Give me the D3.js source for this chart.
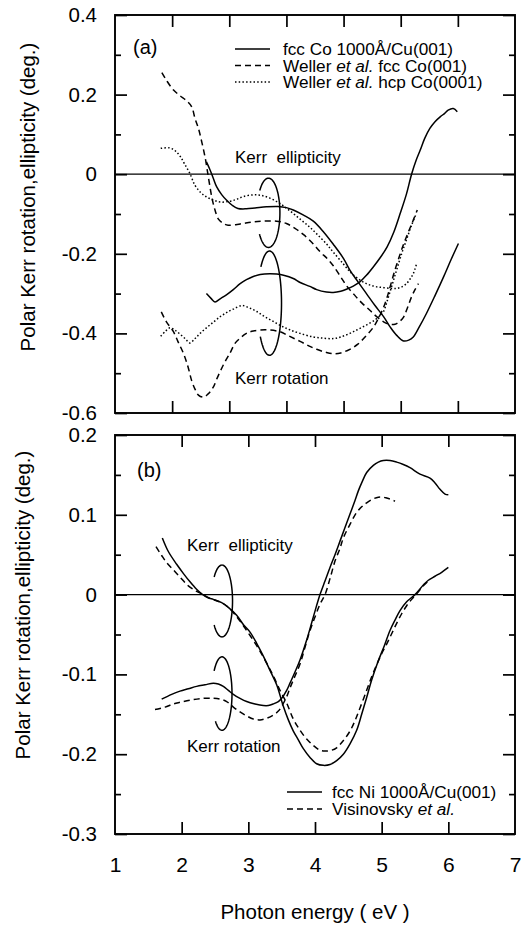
<!DOCTYPE html>
<html>
<head>
<meta charset="utf-8">
<script src="https://cdn.jsdelivr.net/npm/d3@7"></script>
<style>
  body { margin: 0; background: #fff; }
  text { font-family: "Liberation Sans", Arial, sans-serif; fill: #000; }
</style>
</head>
<body>
<svg id="chart" width="521" height="925"></svg>
<script>
// ---- panel (a): Co, [photon energy eV, degrees] ----
const coFccEllip = [[2.60,0.031],[2.66,0.012],[2.72,-0.010],[2.78,-0.032],[2.87,-0.052],[2.95,-0.065],[3.05,-0.078],[3.15,-0.086],[3.30,-0.087],[3.45,-0.085],[3.65,-0.082],[3.85,-0.081],[4.00,-0.084],[4.12,-0.090],[4.30,-0.103],[4.47,-0.118],[4.65,-0.145],[4.82,-0.176],[5.00,-0.212],[5.11,-0.241],[5.25,-0.270],[5.40,-0.300],[5.55,-0.330],[5.70,-0.358],[5.82,-0.385],[5.93,-0.405],[6.05,-0.419],[6.14,-0.417],[6.22,-0.409],[6.32,-0.385],[6.45,-0.350],[6.60,-0.305],[6.75,-0.258],[6.88,-0.215],[7.01,-0.174]];
const coFccRot = [[2.60,-0.300],[2.68,-0.312],[2.75,-0.321],[2.84,-0.313],[2.95,-0.303],[3.07,-0.290],[3.19,-0.275],[3.30,-0.265],[3.42,-0.257],[3.54,-0.252],[3.71,-0.250],[3.83,-0.251],[3.95,-0.254],[4.12,-0.262],[4.24,-0.272],[4.41,-0.282],[4.53,-0.290],[4.70,-0.296],[4.82,-0.297],[4.95,-0.294],[5.05,-0.289],[5.17,-0.281],[5.29,-0.270],[5.40,-0.254],[5.52,-0.233],[5.64,-0.210],[5.76,-0.183],[5.88,-0.145],[5.99,-0.099],[6.10,-0.050],[6.19,0.000],[6.27,0.035],[6.34,0.060],[6.42,0.090],[6.51,0.115],[6.60,0.132],[6.69,0.144],[6.77,0.153],[6.83,0.161],[6.92,0.165],[6.99,0.157]];
const wellerFccEllip = [[1.82,0.255],[1.90,0.236],[2.02,0.212],[2.13,0.198],[2.25,0.185],[2.34,0.170],[2.40,0.140],[2.46,0.115],[2.52,0.080],[2.58,0.040],[2.62,0.005],[2.66,-0.030],[2.70,-0.062],[2.75,-0.090],[2.81,-0.113],[2.90,-0.124],[2.98,-0.128],[3.19,-0.125],[3.40,-0.120],[3.60,-0.118],[3.83,-0.118],[4.00,-0.124],[4.15,-0.136],[4.30,-0.152],[4.45,-0.172],[4.59,-0.195],[4.72,-0.213],[4.82,-0.230],[4.95,-0.258],[5.05,-0.280],[5.17,-0.300],[5.31,-0.322],[5.46,-0.342],[5.58,-0.358],[5.70,-0.371],[5.80,-0.377],[5.90,-0.377],[5.98,-0.370],[6.05,-0.359],[6.12,-0.335],[6.19,-0.308],[6.25,-0.290],[6.31,-0.275]];
const wellerFccRot = [[1.81,-0.346],[1.90,-0.371],[2.02,-0.395],[2.10,-0.420],[2.20,-0.451],[2.28,-0.485],[2.34,-0.518],[2.40,-0.540],[2.46,-0.555],[2.55,-0.560],[2.63,-0.552],[2.72,-0.535],[2.78,-0.515],[2.90,-0.478],[3.01,-0.450],[3.10,-0.425],[3.19,-0.412],[3.30,-0.400],[3.42,-0.394],[3.65,-0.391],[3.89,-0.396],[4.05,-0.407],[4.24,-0.420],[4.40,-0.432],[4.53,-0.440],[4.70,-0.448],[4.82,-0.451],[4.95,-0.449],[5.11,-0.440],[5.25,-0.427],[5.40,-0.405],[5.52,-0.385],[5.61,-0.362],[5.69,-0.338],[5.76,-0.310],[5.83,-0.275],[5.90,-0.240],[5.98,-0.205],[6.05,-0.176],[6.12,-0.150],[6.19,-0.126],[6.29,-0.090]];
const wellerHcpEllip = [[1.80,0.065],[1.96,0.066],[2.06,0.058],[2.14,0.045],[2.22,0.025],[2.31,0.002],[2.40,-0.028],[2.50,-0.046],[2.60,-0.057],[2.72,-0.065],[2.84,-0.070],[3.01,-0.068],[3.13,-0.063],[3.25,-0.056],[3.42,-0.052],[3.55,-0.053],[3.71,-0.060],[3.89,-0.074],[4.06,-0.092],[4.24,-0.113],[4.40,-0.132],[4.53,-0.150],[4.70,-0.175],[4.82,-0.196],[5.00,-0.226],[5.11,-0.245],[5.25,-0.262],[5.40,-0.275],[5.55,-0.282],[5.70,-0.285],[5.85,-0.287],[5.93,-0.287],[6.02,-0.283],[6.10,-0.275],[6.17,-0.262],[6.22,-0.250],[6.28,-0.224]];
const wellerHcpRot = [[1.80,-0.407],[1.88,-0.395],[1.96,-0.386],[2.05,-0.392],[2.14,-0.402],[2.24,-0.415],[2.31,-0.424],[2.40,-0.413],[2.49,-0.400],[2.60,-0.386],[2.72,-0.372],[2.84,-0.358],[2.95,-0.348],[3.07,-0.339],[3.22,-0.330],[3.35,-0.336],[3.48,-0.345],[3.62,-0.358],[3.77,-0.370],[3.92,-0.382],[4.06,-0.391],[4.24,-0.400],[4.47,-0.409],[4.65,-0.412],[4.82,-0.413],[4.95,-0.409],[5.11,-0.400],[5.25,-0.390],[5.40,-0.379],[5.55,-0.366],[5.64,-0.355],[5.70,-0.345],[5.76,-0.320],[5.85,-0.278],[5.93,-0.240],[6.02,-0.198],[6.10,-0.165],[6.19,-0.128],[6.27,-0.100]];

// ---- panel (b): Ni ----
const niFccEllip = [[1.71,0.071],[1.80,0.054],[1.925,0.038],[2.03,0.026],[2.125,0.016],[2.22,0.007],[2.30,0.001],[2.40,-0.004],[2.475,-0.006],[2.60,-0.010],[2.70,-0.016],[2.825,-0.026],[2.93,-0.038],[3.025,-0.047],[3.125,-0.061],[3.225,-0.077],[3.325,-0.095],[3.425,-0.113],[3.525,-0.140],[3.60,-0.157],[3.675,-0.171],[3.75,-0.182],[3.825,-0.193],[3.925,-0.204],[4.025,-0.212],[4.125,-0.214],[4.225,-0.213],[4.325,-0.208],[4.425,-0.200],[4.525,-0.187],[4.625,-0.170],[4.70,-0.150],[4.775,-0.129],[4.85,-0.107],[4.95,-0.083],[5.04,-0.064],[5.125,-0.045],[5.20,-0.032],[5.275,-0.020],[5.375,-0.009],[5.50,0.000],[5.625,0.012],[5.70,0.018],[5.80,0.023],[5.90,0.028],[6.00,0.034]];
const niFccRot = [[1.70,-0.131],[1.85,-0.125],[1.975,-0.121],[2.10,-0.118],[2.225,-0.115],[2.35,-0.113],[2.475,-0.111],[2.55,-0.112],[2.625,-0.115],[2.70,-0.120],[2.775,-0.125],[2.875,-0.130],[2.975,-0.134],[3.10,-0.137],[3.225,-0.139],[3.30,-0.139],[3.375,-0.137],[3.45,-0.134],[3.50,-0.130],[3.575,-0.120],[3.625,-0.111],[3.70,-0.097],[3.775,-0.082],[3.875,-0.057],[3.975,-0.028],[4.075,0.000],[4.15,0.017],[4.225,0.034],[4.30,0.050],[4.375,0.067],[4.45,0.084],[4.525,0.101],[4.60,0.118],[4.65,0.130],[4.70,0.140],[4.775,0.153],[4.875,0.162],[4.95,0.166],[5.025,0.168],[5.125,0.168],[5.225,0.166],[5.325,0.163],[5.425,0.159],[5.575,0.151],[5.725,0.146],[5.80,0.140],[5.875,0.132],[5.95,0.126],[6.00,0.125]];
const visinovskyEllip = [[1.615,0.060],[1.70,0.049],[1.775,0.040],[1.875,0.031],[1.975,0.022],[2.10,0.011],[2.225,0.004],[2.325,0.000],[2.40,-0.004],[2.50,-0.007],[2.60,-0.010],[2.70,-0.016],[2.80,-0.025],[2.95,-0.042],[3.125,-0.064],[3.25,-0.082],[3.375,-0.102],[3.475,-0.120],[3.575,-0.136],[3.675,-0.156],[3.775,-0.170],[3.875,-0.181],[3.975,-0.189],[4.075,-0.195],[4.15,-0.196],[4.25,-0.195],[4.325,-0.192],[4.425,-0.183],[4.525,-0.171],[4.60,-0.158],[4.675,-0.142],[4.775,-0.120],[4.85,-0.103],[4.925,-0.088],[5.00,-0.074],[5.075,-0.062],[5.15,-0.049],[5.225,-0.036],[5.30,-0.024],[5.375,-0.014],[5.45,-0.006],[5.525,0.001],[5.625,0.011],[5.70,0.017]];
const visinovskyRot = [[1.60,-0.144],[1.75,-0.141],[1.875,-0.137],[1.975,-0.135],[2.15,-0.132],[2.325,-0.130],[2.475,-0.130],[2.575,-0.131],[2.675,-0.134],[2.775,-0.141],[2.875,-0.147],[2.975,-0.152],[3.075,-0.156],[3.175,-0.157],[3.275,-0.155],[3.375,-0.151],[3.45,-0.146],[3.50,-0.140],[3.575,-0.128],[3.625,-0.117],[3.70,-0.102],[3.775,-0.087],[3.85,-0.066],[3.925,-0.045],[4.00,-0.028],[4.075,-0.012],[4.15,0.000],[4.225,0.020],[4.30,0.042],[4.375,0.058],[4.425,0.071],[4.525,0.088],[4.625,0.103],[4.70,0.110],[4.775,0.115],[4.875,0.120],[4.95,0.122],[5.025,0.122],[5.075,0.121],[5.15,0.119],[5.20,0.117]];

// ticks
const yMajorA = [0.4, 0.2, 0, -0.2, -0.4, -0.6];
const yMinorA = [0.3, 0.1, -0.1, -0.3, -0.5];
const xTicksA = [2, 3, 4, 5, 6, 7];
const yMajorB = [0.2, 0.1, 0, -0.1, -0.2, -0.3];
const yMinorB = [0.15, 0.05, -0.05, -0.15, -0.25];
const xTicksB = [2, 3, 4, 5, 6];
const xLabelsB = [1, 2, 3, 4, 5, 6, 7];

// grouping loops: [energy, value, half-width eV, half-height deg, gap from, gap to (deg)]
const loopsA = [[3.686, -0.097, 0.20, 0.087, 144, 220], [3.704, -0.324, 0.21, 0.131, 142, 224]];
const loopsB = [[2.605, -0.008, 0.158, 0.045, 140, 222], [2.605, -0.124, 0.15, 0.046, 131, 218]];

const dashes = { solid: null, dashed: "6,4", dotted: "1.5,2.2" };
const fmt = d => d === 0 ? "0" : d.toFixed(1);

const svg = d3.select("#chart");

function drawPanel(p) {
    const g = svg.append("g");
    const [x0, x1] = p.x.range();
    const [y0, y1] = p.y.range();

    // curves
    const line = d3.line()
        .x(d => p.x(d[0]))
        .y(d => p.y(d[1]))
        .curve(d3.curveCatmullRom.alpha(0.5));

    p.series.forEach(s => {
        g.append("path")
            .attr("d", line(s.data))
            .attr("fill", "none")
            .attr("stroke", "#000")
            .attr("stroke-width", 1.5)
            .attr("stroke-dasharray", dashes[s.style]);
    });

    // zero line
    g.append("line")
        .attr("x1", x0).attr("x2", x1)
        .attr("y1", p.y(0)).attr("y2", p.y(0))
        .attr("stroke", "#000").attr("stroke-width", 1.3);

    // loops
    p.loops.forEach(l => {
        const [e, v, re, rv, ga, gb] = l;
        const pts = d3.range(gb, ga + 360 + 0.1, 3).map(t => {
            const a = t * Math.PI / 180;
            return [e + re * Math.cos(a), v - rv * Math.sin(a)];
        });
        g.append("path")
            .attr("d", d3.line().x(d => p.x(d[0])).y(d => p.y(d[1])).curve(d3.curveLinear)(pts))
            .attr("fill", "none")
            .attr("stroke", "#000")
            .attr("stroke-width", 1.5);
    });

    // axes
    const addAxis = (axis, tr) => {
        const a = g.append("g").attr("transform", tr).call(axis);
        a.select(".domain").remove();
        a.selectAll("line").attr("stroke", "#000").attr("stroke-width", 1.7);
        a.selectAll("text").attr("font-size", 20.5).attr("font-family", null).attr("fill", "#000");
        return a;
    };
    addAxis(d3.axisLeft(p.y).tickValues(p.yMajor).tickSize(-12).tickSizeOuter(0).tickPadding(18).tickFormat(fmt), `translate(${x0},0)`);
    addAxis(d3.axisLeft(p.y).tickValues(p.yMinor).tickSize(-6).tickSizeOuter(0).tickFormat(""), `translate(${x0},0)`);
    addAxis(d3.axisRight(p.y).tickValues(p.yMajor).tickSize(-12).tickSizeOuter(0).tickFormat(""), `translate(${x1},0)`);
    addAxis(d3.axisRight(p.y).tickValues(p.yMinor).tickSize(-6).tickSizeOuter(0).tickFormat(""), `translate(${x1},0)`);
    addAxis(d3.axisTop(p.x).tickValues(p.xTicks).tickSize(-12).tickSizeOuter(0).tickFormat(""), `translate(0,${y1})`);
    addAxis(d3.axisBottom(p.x).tickValues(p.xTicks).tickSize(-12).tickSizeOuter(0).tickFormat(""), `translate(0,${y0})`);
    if (p.xLabels) {
        addAxis(d3.axisBottom(p.x).tickValues(p.xLabels).tickSize(0).tickSizeOuter(0).tickPadding(23).tickFormat(d3.format("d")), `translate(0,${y0})`)
            .selectAll("text").attr("font-size", 21);
    }

    // frame
    g.append("rect")
        .attr("x", x0).attr("y", y1)
        .attr("width", x1 - x0).attr("height", y0 - y1)
        .attr("fill", "none").attr("stroke", "#000").attr("stroke-width", 1.9);

    // panel tag
    g.append("text").attr("x", p.tag[1]).attr("y", p.tag[2])
        .attr("font-size", 20).text(p.tag[0]);

    // annotations
    p.notes.forEach(n => {
        g.append("text").attr("x", n[1]).attr("y", n[2])
            .attr("font-size", 17).attr("xml:space", "preserve").text(n[0]);
    });

    // legend
    p.legend.forEach((it, i) => {
        const yy = p.legendPos[1] + i * p.legendPos[3];
        g.append("line")
            .attr("x1", p.legendPos[0]).attr("x2", p.legendPos[0] + 35)
            .attr("y1", yy).attr("y2", yy)
            .attr("stroke", "#000").attr("stroke-width", 1.4)
            .attr("stroke-dasharray", dashes[it.style]);
        const t = g.append("text")
            .attr("x", p.legendPos[2]).attr("y", yy + 6)
            .attr("font-size", 17.2);
        it.parts.forEach(pt => {
            t.append("tspan").attr("font-style", pt[1] ? "italic" : null).text(pt[0]);
        });
    });

    // y title
    svg.append("text")
        .attr("transform", `translate(${p.yTitle[0]},${p.yTitle[1]}) rotate(-90)`)
        .attr("text-anchor", "middle")
        .attr("font-size", 20.5)
        .text("Polar Kerr rotation,ellipticity (deg.)");
}

drawPanel({
    x: d3.scaleLinear().domain([1, 8]).range([115, 515]),
    y: d3.scaleLinear().domain([-0.6, 0.4]).range([413, 15]),
    yMajor: yMajorA, yMinor: yMinorA, xTicks: xTicksA,
    series: [
        { data: coFccEllip, style: "solid" },
        { data: coFccRot, style: "solid" },
        { data: wellerFccEllip, style: "dashed" },
        { data: wellerFccRot, style: "dashed" },
        { data: wellerHcpEllip, style: "dotted" },
        { data: wellerHcpRot, style: "dotted" }
    ],
    loops: loopsA,
    tag: ["(a)", 133, 54],
    notes: [["Kerr  ellipticity", 235, 163], ["Kerr rotation", 235, 384]],
    legendPos: [235, 49, 283, 16.5],
    legend: [
        { style: "solid", parts: [["fcc Co 1000Å/Cu(001)", false]] },
        { style: "dashed", parts: [["Weller ", false], ["et al.", true], [" fcc Co(001)", false]] },
        { style: "dotted", parts: [["Weller ", false], ["et al.", true], [" hcp Co(0001)", false]] }
    ],
    yTitle: [35, 197]
});

drawPanel({
    x: d3.scaleLinear().domain([1, 7]).range([115, 515]),
    y: d3.scaleLinear().domain([-0.3, 0.2]).range([834, 435]),
    yMajor: yMajorB, yMinor: yMinorB, xTicks: xTicksB, xLabels: xLabelsB,
    series: [
        { data: niFccEllip, style: "solid" },
        { data: niFccRot, style: "solid" },
        { data: visinovskyEllip, style: "dashed" },
        { data: visinovskyRot, style: "dashed" }
    ],
    loops: loopsB,
    tag: ["(b)", 137, 477],
    notes: [["Kerr  ellipticity", 187, 551], ["Kerr rotation", 187, 752]],
    legendPos: [287, 792, 332, 17],
    legend: [
        { style: "solid", parts: [["fcc Ni 1000Å/Cu(001)", false]] },
        { style: "dashed", parts: [["Visinovsky ", false], ["et al.", true]] }
    ],
    yTitle: [30, 605]
});

svg.append("text")
    .attr("x", 315).attr("y", 919)
    .attr("text-anchor", "middle")
    .attr("font-size", 20.5)
    .text("Photon energy ( eV )");
</script>
</body>
</html>
